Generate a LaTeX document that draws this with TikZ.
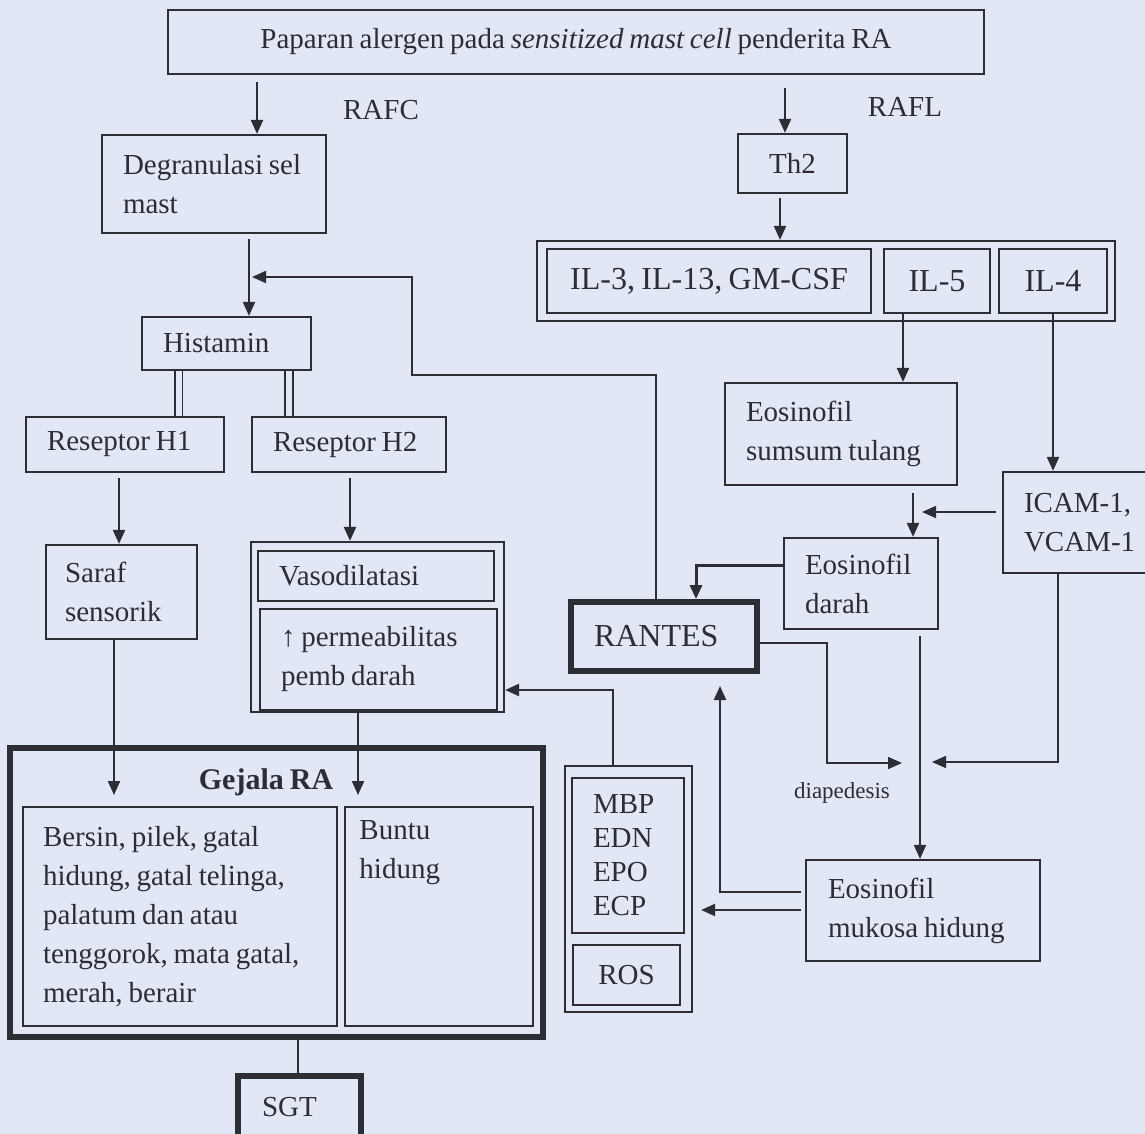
\documentclass[tikz,border=0pt]{standalone}
\usepackage{fontspec}
\setmainfont{Liberation Serif}[WordSpace=0.8]
\usetikzlibrary{arrows.meta}
\definecolor{ink}{RGB}{45,45,52}
\definecolor{paper}{RGB}{226,231,246}

\begin{document}
\begin{tikzpicture}[
        x=1pt, y=-1pt,
        every node/.style={font=\fontsize{29}{39}\selectfont, text=ink},
        box/.style={rectangle, draw=ink, line width=2.2pt, inner sep=0pt},
        boldbox/.style={box, line width=6pt},
        line/.style={draw=ink, line width=2.2pt, -{Triangle[length=14pt,width=12pt]}},
        thinline/.style={line, line width=1.6pt},
        wire/.style={draw=ink, line width=2.2pt},
        twin/.style={draw=ink, line width=1.8pt, double=paper, double distance=6pt},
        big/.style={font=\fontsize{32}{39}\selectfont},
        lefttext/.style={align=flush left}
    ]
        \path[use as bounding box, fill=paper] (0,0) rectangle (1145,1134);

        \node[box, minimum width=816, minimum height=64] (expo) at (576,42) {Paparan alergen pada \textit{sensitized mast cell} penderita RA};
        \node (rafc) at (381,110) {RAFC};
        \node (rafl) at (905,107) {RAFL};

        % Jalur RAFC
        \node[box, lefttext, text width=182, inner xsep=21, minimum height=98] (degran) at (214,184) {Degranulasi sel\\mast};
        \node[box, lefttext, text width=127, inner xsep=21, minimum height=53] (hist) at (226.5,343.5) {Histamin};
        \node[box, lefttext, text width=156, inner xsep=21, minimum height=55] (resh1) at (125,444.5) {Reseptor H1};
        \node[box, lefttext, text width=152, inner xsep=21, minimum height=55] (resh2) at (349,444.5) {Reseptor H2};
        \node[box, lefttext, text width=113, inner xsep=19, minimum height=94] (saraf) at (121.5,592) {Saraf\\sensorik};
        \node[box, minimum width=253, minimum height=170] (vasgrp) at (377.5,627) {};
        \node[box, lefttext, text width=194, inner xsep=21, minimum height=50] (vaso) at (376,576) {Vasodilatasi};
        \node[box, lefttext, text width=195, inner xsep=21, minimum height=101] (perm) at (378.5,659.5) {↑ permeabilitas\\pemb darah};

        % Jalur RAFL
        \node[box, minimum width=109, minimum height=59] (th2) at (792.5,163.5) {Th2};
        \node[box, minimum width=578, minimum height=80] (ilgrp) at (826,281) {};
        \node[box, big, minimum width=324, minimum height=64] (il3) at (709,281) {IL-3, IL-13, GM-CSF};
        \node[box, big, minimum width=106, minimum height=64] (il5) at (937,281) {IL-5};
        \node[box, big, minimum width=108, minimum height=64] (il4) at (1053,281) {IL-4};
        \node[box, lefttext, text width=190, inner xsep=21, minimum height=102] (sumsum) at (841,434) {Eosinofil\\sumsum tulang};
        \node[box, lefttext, text width=115, inner xsep=21, minimum height=101] (icam) at (1081.5,522.5) {ICAM-1,\\VCAM-1};
        \node[box, lefttext, text width=112, inner xsep=21, minimum height=91] (darah) at (861,583.5) {Eosinofil\\darah};
        \node[boldbox, big, lefttext, text width=140, inner xsep=23, minimum height=69] (rantes) at (664,636.5) {RANTES};
        \node[font=\fontsize{23}{28}\selectfont] (diap) at (842,793) {diapedesis};
        \node[box, lefttext, text width=190, inner xsep=22, minimum height=101] (mukosa) at (923,910.5) {Eosinofil\\mukosa hidung};
        \node[box, minimum width=127, minimum height=246] (mbpgrp) at (628.5,889) {};
        \node[box, lefttext, text width=70, inner xsep=21, minimum height=155, font=\fontsize{29}{34}\selectfont] (mbp) at (628,855.5) {MBP\\EDN\\EPO\\ECP};
        \node[box, minimum width=107, minimum height=60] (ros) at (626.5,975) {ROS};

        % Gejala
        \node[boldbox, minimum width=533, minimum height=289] (gejala) at (276.5,892.5) {};
        \node[font=\fontsize{30}{39}\selectfont\bfseries] (gtitle) at (266,782) {Gejala RA};
        \node[box, lefttext, text width=274, inner xsep=20, minimum height=219] (gleft) at (180,916.5) {Bersin, pilek, gatal\\hidung, gatal telinga,\\palatum dan atau\\tenggorok, mata gatal,\\merah, berair};
        \node[box, minimum width=188, minimum height=219] (gright) at (439,916.5) {};
        \node[anchor=north west, lefttext] (buntu) at ([xshift=12pt,yshift=-11pt]gright.north west) {Buntu\\hidung};
        \node[boldbox, lefttext, text width=75, inner xsep=24, minimum height=62] (sgt) at (299.5,1107) {SGT};

        \coordinate (fbturn) at (412,375);
        \coordinate (fbend) at (252,277);
        \coordinate (gin1) at (114,795);
        \coordinate (gin2) at (358,795);
        \coordinate (diaL) at (902,763);
        \coordinate (diaR) at (932,762);
        \coordinate (icamtip) at (922,512);

        \draw[line, shorten <=7pt] ([xshift=-319pt]expo.south) -- ([xshift=43pt]degran.north);
        \draw[line, shorten <=13pt] ([xshift=209pt]expo.south) -- ([xshift=-7.5pt]th2.north);
        \draw[line, shorten <=5pt] ([xshift=35pt]degran.south) -- ([xshift=22.5pt]hist.north);
        \draw[line, shorten <=4pt] ([xshift=-12.5pt]th2.south) -- ([xshift=-46pt]ilgrp.north);
        \draw[line] ([xshift=-8pt]rantes.north) |- (fbturn) |- (fbend);

        \draw[twin] ([xshift=-48pt]hist.south) -- ([xshift=53.5pt]resh1.north);
        \draw[twin] ([xshift=62.5pt]hist.south) -- ([xshift=-60pt]resh2.north);
        \draw[line, shorten <=5pt] ([xshift=-6pt]resh1.south) -- ([xshift=-2.5pt]saraf.north);
        \draw[line, shorten <=5pt] ([xshift=1pt]resh2.south) -- ([xshift=-27.5pt]vasgrp.north);
        \draw[line] ([xshift=-7.5pt]saraf.south) -- (gin1);
        \draw[line] ([xshift=-19.5pt]vasgrp.south) -- (gin2);
        \draw[wire] ([xshift=21.5pt]gejala.south) -- ([xshift=-1.5pt]sgt.north);
        \draw[line] ([xshift=-15.5pt]mbpgrp.north) |- ([yshift=-63pt]vasgrp.east);

        \draw[line] ([xshift=-34pt]il5.south) -- ([xshift=62pt]sumsum.north);
        \draw[line] (il4.south) -- ([xshift=-28.5pt]icam.north);
        \draw[line, shorten <=7pt] ([xshift=72pt]sumsum.south) -- ([xshift=52pt]darah.north);
        \draw[thinline, shorten <=6pt] ([yshift=10.5pt]icam.west) -- (icamtip);
        \draw[line, line width=3pt] ([yshift=18.5pt]darah.west) -| ([xshift=32pt]rantes.north);
        \draw[thinline] ([yshift=-6.5pt]rantes.east) -| ([xshift=-75pt]diaL) -- (diaL);
        \draw[thinline] ([xshift=-23.5pt]icam.south) |- (diaR);
        \draw[line, shorten <=6pt] ([xshift=59pt]darah.south) -- ([xshift=-3pt]mukosa.north);
        \draw[line, shorten <=4pt, shorten >=12pt] ([yshift=18.5pt]mukosa.west) -| ([xshift=56pt]rantes.south);
        \draw[line, shorten <=4pt, shorten >=8pt] ([yshift=0.5pt]mukosa.west) -- ([yshift=-21pt]mbpgrp.east);
    \end{tikzpicture}
\end{document}
